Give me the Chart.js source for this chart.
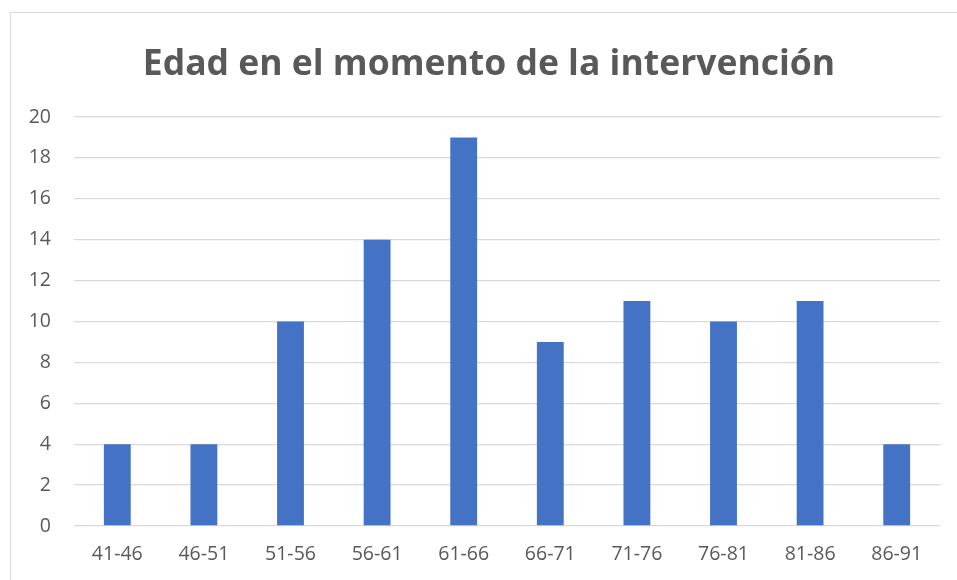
<!DOCTYPE html>
<html><head><meta charset="utf-8">
<script src="https://cdn.jsdelivr.net/npm/chart.js@4"></script>
<style>
html,body{margin:0;padding:0;background:#fff;}
#wrap{position:relative;width:957px;height:580px;}
#frame{position:absolute;left:10px;top:12px;width:960px;height:600px;border:1px solid #d9d9d9;box-sizing:border-box;}
canvas{position:absolute;left:0;top:0;}
</style></head>
<body><div id="wrap"><div id="frame"></div><canvas id="c" width="957" height="580"></canvas></div>
<script>
const titleText = "Edad en el momento de la intervención";
const categories = ["41-46","46-51","51-56","56-61","61-66","66-71","71-76","76-81","81-86","86-91"];
const values = [4,4,10,14,19,9,11,10,11,4];
const yTicks = [0,2,4,6,8,10,12,14,16,18,20];

const gray = "#595959";
const titlePlugin = {
  id: "frameTitle",
  afterDraw(chart) {
    const ctx = chart.ctx;
    ctx.save();
    ctx.font = "bold 35.5px 'Open Sans'";
    ctx.fillStyle = gray;
    ctx.textAlign = "center";
    ctx.textBaseline = "alphabetic";
    ctx.fillText(titleText, 489, 75);
    ctx.restore();
  }
};
new Chart(document.getElementById("c"), {
  type: "bar",
  data: { labels: categories, datasets: [{ data: values, backgroundColor: "#4472C4", barPercentage: 0.62, categoryPercentage: 0.5 }] },
  options: {
    responsive: false, animation: false,
    layout: { padding: { left: 10, right: 17, top: 117, bottom: 0 } },
    plugins: { legend: { display: false }, tooltip: { enabled: false }, title: { display: false } },
    scales: {
      y: { min: 0, max: 20, afterBuildTicks: s => { s.ticks = yTicks.map(v => ({ value: v })); },
        grid: { color: "#d9d9d9", lineWidth: 1.3, drawTicks: false }, border: { display: false },
        ticks: { color: gray, font: { family: "'Open Sans'", size: 19.5 }, padding: 23 },
        afterFit: s => { s.width = 64; } },
      x: { grid: { display: false, drawTicks: false }, border: { display: false },
        ticks: { color: gray, font: { family: "'Open Sans'", size: 19.5 }, padding: 17 },
        afterFit: s => { s.height = 54; } }
    }
  },
  plugins: [titlePlugin]
});
</script></body></html>
